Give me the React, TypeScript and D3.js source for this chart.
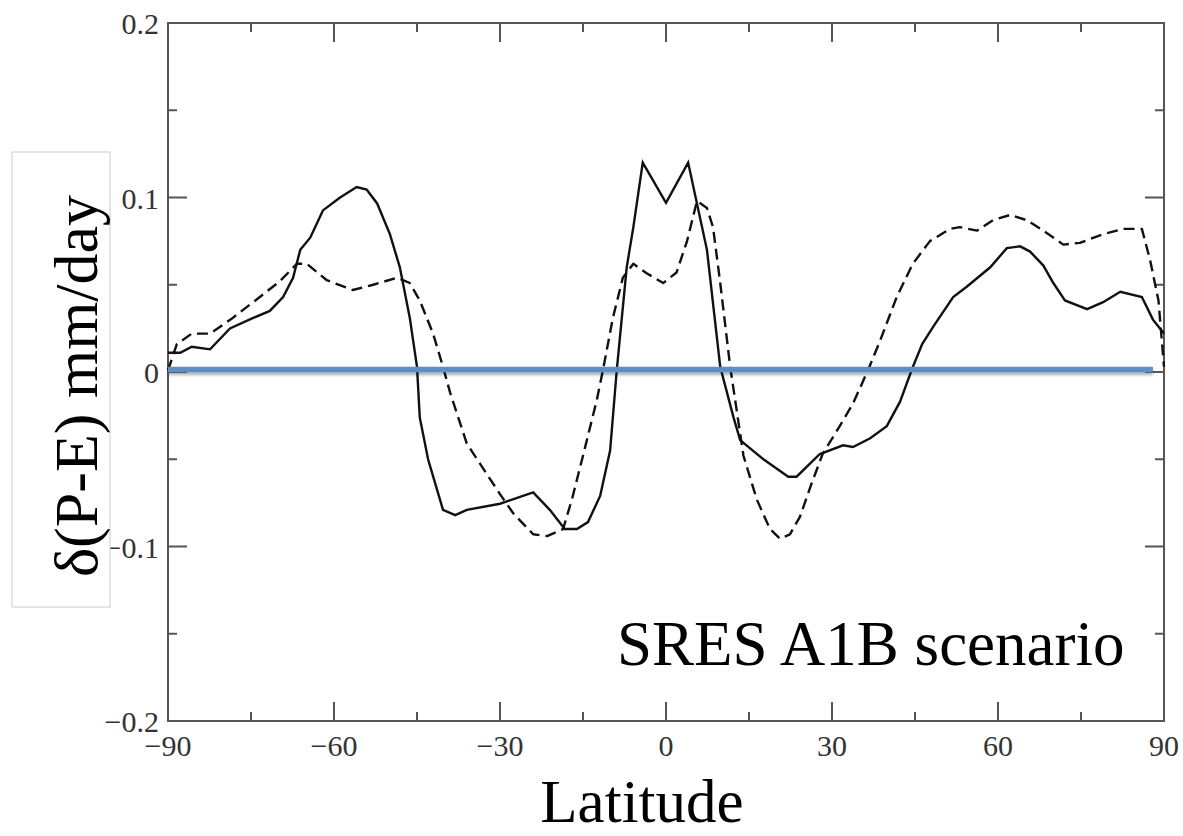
import React from "react";
import * as d3 from "d3";

const solidLat = [-90, -87.8, -85.7, -82.4, -78.8, -74.6, -71.6, -69.2, -67.4, -66.1, -64.3, -62, -58.9, -55.9, -54.1, -52.2, -49.9, -48.1, -46.3, -45, -44.5, -43, -40.3, -38.1, -36, -30, -24, -21, -18.3, -16.1, -14.1, -11.9, -10.1, -8.9, -7.1, -5.9, -4.2, 0, 4, 7.4, 9.8, 12.2, 13.4, 17.6, 22.1, 23.6, 27.8, 32, 33.8, 36.9, 39.9, 42.3, 44.5, 46.3, 48.3, 51.9, 54.4, 58.6, 61.6, 64, 65.8, 68.2, 70, 72.1, 76.1, 79, 82.1, 86, 88, 90];
const solidVal = [0.011, 0.011, 0.0145, 0.013, 0.025, 0.031, 0.035, 0.043, 0.054, 0.07, 0.077, 0.0926, 0.1, 0.106, 0.1046, 0.0966, 0.079, 0.06, 0.031, 0.003, -0.026, -0.05, -0.079, -0.082, -0.079, -0.0755, -0.069, -0.079, -0.09, -0.09, -0.086, -0.071, -0.045, 0.001, 0.06, 0.083, 0.12, 0.097, 0.12, 0.07, 0.003, -0.026, -0.039, -0.05, -0.06, -0.06, -0.047, -0.042, -0.043, -0.038, -0.031, -0.017, 0.002, 0.016, 0.026, 0.043, 0.049, 0.06, 0.071, 0.072, 0.069, 0.061, 0.051, 0.041, 0.036, 0.04, 0.046, 0.043, 0.03, 0.022];

const dashedLat = [-90, -88.4, -85.7, -82.4, -78.3, -73.4, -69.8, -66.7, -64.9, -61.3, -56.6, -52.9, -48.6, -46.3, -44.5, -42.1, -40.3, -39, -36, -30, -27.6, -24, -21.5, -18.6, -17, -15, -12.5, -11.4, -9.6, -7.8, -5.9, -3.5, -0.5, 1.9, 3.8, 5.6, 7.4, 8.5, 9.8, 11.6, 14, 16.4, 18.8, 20.6, 22.4, 24.2, 26.3, 28.3, 31.4, 33.8, 36.5, 38.7, 41.7, 44.6, 47.7, 51.3, 53.1, 56.2, 59.1, 62.2, 65.2, 68.2, 71.8, 74.8, 79, 82.6, 86, 87.5, 89, 90];
const dashedVal = [0.001, 0.016, 0.022, 0.022, 0.031, 0.043, 0.052, 0.062, 0.062, 0.0526, 0.047, 0.05, 0.054, 0.051, 0.041, 0.022, 0.003, -0.012, -0.041, -0.07, -0.081, -0.093, -0.094, -0.09, -0.073, -0.048, -0.016, 0.001, 0.031, 0.054, 0.062, 0.0566, 0.051, 0.057, 0.075, 0.098, 0.094, 0.083, 0.051, 0.003, -0.048, -0.073, -0.09, -0.0955, -0.093, -0.083, -0.064, -0.047, -0.031, -0.018, 0.001, 0.018, 0.043, 0.062, 0.075, 0.082, 0.083, 0.081, 0.087, 0.09, 0.087, 0.081, 0.073, 0.074, 0.079, 0.082, 0.082, 0.064, 0.041, 0.003];

const refLat = [-90, 88];
const refVal = [0.0015, 0.0015];

const xMajorTicks = [-90, -60, -30, 0, 30, 60, 90];
const xMinorTicks = [-75, -45, -15, 15, 45, 75];
const yMajorTicks = [-0.2, -0.1, 0, 0.1, 0.2];
const yMinorTicks = [-0.15, -0.05, 0.05, 0.15];
const yTickLabels = ["\u22120.2", "\u22120.1", "0", "0.1", "0.2"];
const xTickLabels = ["\u221290", "\u221260", "\u221230", "0", "30", "60", "90"];

const yLabel = "\u03b4(P-E) mm/day";
const xLabel = "Latitude";
const annotation = "SRES A1B scenario";

const W = 1183;
const H = 836;
const L = 168, R = 1164, T = 23, B = 721;
const serif = "'Liberation Serif', 'Times New Roman', serif";

export default function App() {
  const x = d3.scaleLinear().domain([-90, 90]).range([L, R]);
  const y = d3.scaleLinear().domain([-0.2, 0.2]).range([B, T]);
  const line = d3
    .line<[number, number]>()
    .x((d) => x(d[0]))
    .y((d) => y(d[1]));
  const solid = solidLat.map((l, i) => [l, solidVal[i]] as [number, number]);
  const dashed = dashedLat.map((l, i) => [l, dashedVal[i]] as [number, number]);
  const ref = refLat.map((l, i) => [l, refVal[i]] as [number, number]);
  const axisColor = "#555";

  return (
    <svg
      width={W}
      height={H}
      style={{ position: "absolute", left: 0, top: 0, background: "#fff" }}
    >
      <defs>
        <filter id="shadow" filterUnits="userSpaceOnUse" x={0} y={0} width={W} height={H}>
          <feDropShadow dx="0" dy="2.5" stdDeviation="1.5" floodColor="#000" floodOpacity="0.35" />
        </filter>
      </defs>
      <rect x={0} y={0} width={W} height={H} fill="#fff" />
      {/* frame */}
      <rect x={L} y={T} width={R - L} height={B - T} fill="none" stroke={axisColor} strokeWidth={2} />
      {/* x ticks */}
      {xMajorTicks.map((t) => (
        <g key={"xm" + t}>
          <line x1={x(t)} x2={x(t)} y1={B} y2={B - 19} stroke={axisColor} strokeWidth={2} />
          <line x1={x(t)} x2={x(t)} y1={T} y2={T + 19} stroke={axisColor} strokeWidth={2} />
        </g>
      ))}
      {xMinorTicks.map((t) => (
        <g key={"xn" + t}>
          <line x1={x(t)} x2={x(t)} y1={B} y2={B - 9} stroke={axisColor} strokeWidth={2} />
          <line x1={x(t)} x2={x(t)} y1={T} y2={T + 9} stroke={axisColor} strokeWidth={2} />
        </g>
      ))}
      {yMajorTicks.map((t) => (
        <g key={"ym" + t}>
          <line x1={L} x2={L + 19} y1={y(t)} y2={y(t)} stroke={axisColor} strokeWidth={2} />
          <line x1={R} x2={R - 19} y1={y(t)} y2={y(t)} stroke={axisColor} strokeWidth={2} />
        </g>
      ))}
      {yMinorTicks.map((t) => (
        <g key={"yn" + t}>
          <line x1={L} x2={L + 9} y1={y(t)} y2={y(t)} stroke={axisColor} strokeWidth={2} />
          <line x1={R} x2={R - 9} y1={y(t)} y2={y(t)} stroke={axisColor} strokeWidth={2} />
        </g>
      ))}
      {/* tick labels */}
      {yMajorTicks.map((t, i) => (
        <text
          key={"yl" + t}
          x={L - 9}
          y={y(t) + 11}
          textAnchor="end"
          fontFamily={serif}
          fontSize={30}
          fill="#333"
        >
          {yTickLabels[i]}
        </text>
      ))}
      {xMajorTicks.map((t, i) => (
        <text
          key={"xl" + t}
          x={x(t)}
          y={756}
          textAnchor="middle"
          fontFamily={serif}
          fontSize={30}
          fill="#333"
        >
          {xTickLabels[i]}
        </text>
      ))}
      {/* data lines */}
      <path d={line(dashed) || ""} fill="none" stroke="#111" strokeWidth={2.4} strokeDasharray="11,6" strokeLinejoin="round" />
      <path d={line(solid) || ""} fill="none" stroke="#111" strokeWidth={2.4} strokeLinejoin="miter" />
      {/* blue reference line */}
      <path d={line(ref) || ""} fill="none" stroke="#5B8FC8" strokeWidth={5.5} filter="url(#shadow)" />
      {/* annotation */}
      <text x={617} y={665} fontFamily={serif} fontSize={63} fill="#000">
        {annotation}
      </text>
      {/* x label */}
      <text x={642} y={822} textAnchor="middle" fontFamily={serif} fontSize={61} fill="#000">
        {xLabel}
      </text>
      {/* y label box */}
      <rect x={12} y={152} width={98} height={455} fill="#fff" stroke="#ccc" strokeWidth={1} />
      <text
        transform={`translate(97, 386) rotate(-90)`}
        textAnchor="middle"
        fontFamily={serif}
        fontSize={62}
        fill="#000"
      >
        {yLabel}
      </text>
    </svg>
  );
}
